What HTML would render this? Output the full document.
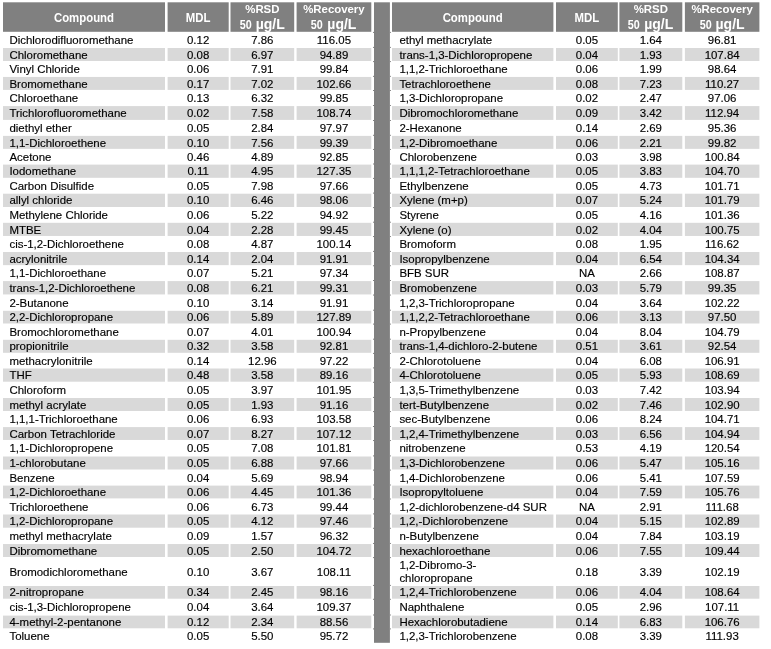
<!DOCTYPE html>
<html><head><meta charset="utf-8"><style>
html,body{margin:0;padding:0;background:#fff;}
body{width:771px;height:649px;position:relative;overflow:hidden;font-family:"Liberation Sans",sans-serif;color:#000;}
.wrap{position:absolute;left:0;top:0;width:771px;height:649px;filter:blur(0.35px);}
svg{position:absolute;left:0;top:0;}
.c{position:absolute;box-sizing:border-box;font-size:11.45px;line-height:12px;white-space:nowrap;}
.n{text-align:center;}
.c{-webkit-text-stroke:0.15px #000;}
.h{position:absolute;color:#fff;font-weight:bold;font-size:11.4px;text-align:center;white-space:nowrap;}
.h1{line-height:29.5px;padding-top:1.5px;box-sizing:border-box;transform:scaleY(1.1);transform-origin:50% 19.5px;}
.h2 .a{position:absolute;left:0;right:0;top:1.05px;line-height:12px;transform:scaleY(1);transform-origin:50% 9.95px;clip-path:inset(0 0 0.6px 0);}
.h2 .b{position:absolute;left:0;right:0;top:14.95px;line-height:14px;}
.h2 .b span{font-size:14px;}
.h2 .b i{font-style:normal;display:inline-block;line-height:12px;transform:translateX(-0.5px) scale(0.945,1.128);transform-origin:50% 9.95px;}
</style></head><body><div class="wrap">

<svg width="771" height="649" viewBox="0 0 771 649"><rect x="3" y="2.3" width="162" height="29.5" fill="#808080"/><rect x="167.6" y="2.3" width="61.1" height="29.5" fill="#808080"/><rect x="230.5" y="2.3" width="63.7" height="29.5" fill="#808080"/><rect x="296.6" y="2.3" width="74.7" height="29.5" fill="#808080"/><rect x="3" y="48" width="162" height="13" fill="#d9d9d9"/><rect x="167.6" y="48" width="61.1" height="13" fill="#d9d9d9"/><rect x="230.5" y="48" width="63.7" height="13" fill="#d9d9d9"/><rect x="296.6" y="48" width="74.7" height="13" fill="#d9d9d9"/><rect x="3" y="76.95" width="162" height="12.95" fill="#d9d9d9"/><rect x="167.6" y="76.95" width="61.1" height="12.95" fill="#d9d9d9"/><rect x="230.5" y="76.95" width="63.7" height="12.95" fill="#d9d9d9"/><rect x="296.6" y="76.95" width="74.7" height="12.95" fill="#d9d9d9"/><rect x="3" y="106.1" width="162" height="13.8" fill="#d9d9d9"/><rect x="167.6" y="106.1" width="61.1" height="13.8" fill="#d9d9d9"/><rect x="230.5" y="106.1" width="63.7" height="13.8" fill="#d9d9d9"/><rect x="296.6" y="106.1" width="74.7" height="13.8" fill="#d9d9d9"/><rect x="3" y="135.9" width="162" height="12.95" fill="#d9d9d9"/><rect x="167.6" y="135.9" width="61.1" height="12.95" fill="#d9d9d9"/><rect x="230.5" y="135.9" width="63.7" height="12.95" fill="#d9d9d9"/><rect x="296.6" y="135.9" width="74.7" height="12.95" fill="#d9d9d9"/><rect x="3" y="164.6" width="162" height="13.2" fill="#d9d9d9"/><rect x="167.6" y="164.6" width="61.1" height="13.2" fill="#d9d9d9"/><rect x="230.5" y="164.6" width="63.7" height="13.2" fill="#d9d9d9"/><rect x="296.6" y="164.6" width="74.7" height="13.2" fill="#d9d9d9"/><rect x="3" y="193.7" width="162" height="13.3" fill="#d9d9d9"/><rect x="167.6" y="193.7" width="61.1" height="13.3" fill="#d9d9d9"/><rect x="230.5" y="193.7" width="63.7" height="13.3" fill="#d9d9d9"/><rect x="296.6" y="193.7" width="74.7" height="13.3" fill="#d9d9d9"/><rect x="3" y="222.8" width="162" height="13.15" fill="#d9d9d9"/><rect x="167.6" y="222.8" width="61.1" height="13.15" fill="#d9d9d9"/><rect x="230.5" y="222.8" width="63.7" height="13.15" fill="#d9d9d9"/><rect x="296.6" y="222.8" width="74.7" height="13.15" fill="#d9d9d9"/><rect x="3" y="252" width="162" height="13.15" fill="#d9d9d9"/><rect x="167.6" y="252" width="61.1" height="13.15" fill="#d9d9d9"/><rect x="230.5" y="252" width="63.7" height="13.15" fill="#d9d9d9"/><rect x="296.6" y="252" width="74.7" height="13.15" fill="#d9d9d9"/><rect x="3" y="281.1" width="162" height="13.35" fill="#d9d9d9"/><rect x="167.6" y="281.1" width="61.1" height="13.35" fill="#d9d9d9"/><rect x="230.5" y="281.1" width="63.7" height="13.35" fill="#d9d9d9"/><rect x="296.6" y="281.1" width="74.7" height="13.35" fill="#d9d9d9"/><rect x="3" y="310.8" width="162" height="12.7" fill="#d9d9d9"/><rect x="167.6" y="310.8" width="61.1" height="12.7" fill="#d9d9d9"/><rect x="230.5" y="310.8" width="63.7" height="12.7" fill="#d9d9d9"/><rect x="296.6" y="310.8" width="74.7" height="12.7" fill="#d9d9d9"/><rect x="3" y="339.8" width="162" height="13" fill="#d9d9d9"/><rect x="167.6" y="339.8" width="61.1" height="13" fill="#d9d9d9"/><rect x="230.5" y="339.8" width="63.7" height="13" fill="#d9d9d9"/><rect x="296.6" y="339.8" width="74.7" height="13" fill="#d9d9d9"/><rect x="3" y="368.5" width="162" height="13.2" fill="#d9d9d9"/><rect x="167.6" y="368.5" width="61.1" height="13.2" fill="#d9d9d9"/><rect x="230.5" y="368.5" width="63.7" height="13.2" fill="#d9d9d9"/><rect x="296.6" y="368.5" width="74.7" height="13.2" fill="#d9d9d9"/><rect x="3" y="398" width="162" height="13" fill="#d9d9d9"/><rect x="167.6" y="398" width="61.1" height="13" fill="#d9d9d9"/><rect x="230.5" y="398" width="63.7" height="13" fill="#d9d9d9"/><rect x="296.6" y="398" width="74.7" height="13" fill="#d9d9d9"/><rect x="3" y="427.1" width="162" height="12.85" fill="#d9d9d9"/><rect x="167.6" y="427.1" width="61.1" height="12.85" fill="#d9d9d9"/><rect x="230.5" y="427.1" width="63.7" height="12.85" fill="#d9d9d9"/><rect x="296.6" y="427.1" width="74.7" height="12.85" fill="#d9d9d9"/><rect x="3" y="456.5" width="162" height="13" fill="#d9d9d9"/><rect x="167.6" y="456.5" width="61.1" height="13" fill="#d9d9d9"/><rect x="230.5" y="456.5" width="63.7" height="13" fill="#d9d9d9"/><rect x="296.6" y="456.5" width="74.7" height="13" fill="#d9d9d9"/><rect x="3" y="485.6" width="162" height="12.8" fill="#d9d9d9"/><rect x="167.6" y="485.6" width="61.1" height="12.8" fill="#d9d9d9"/><rect x="230.5" y="485.6" width="63.7" height="12.8" fill="#d9d9d9"/><rect x="296.6" y="485.6" width="74.7" height="12.8" fill="#d9d9d9"/><rect x="3" y="514.5" width="162" height="13.2" fill="#d9d9d9"/><rect x="167.6" y="514.5" width="61.1" height="13.2" fill="#d9d9d9"/><rect x="230.5" y="514.5" width="63.7" height="13.2" fill="#d9d9d9"/><rect x="296.6" y="514.5" width="74.7" height="13.2" fill="#d9d9d9"/><rect x="3" y="544.05" width="162" height="12.95" fill="#d9d9d9"/><rect x="167.6" y="544.05" width="61.1" height="12.95" fill="#d9d9d9"/><rect x="230.5" y="544.05" width="63.7" height="12.95" fill="#d9d9d9"/><rect x="296.6" y="544.05" width="74.7" height="12.95" fill="#d9d9d9"/><rect x="3" y="586" width="162" height="12.7" fill="#d9d9d9"/><rect x="167.6" y="586" width="61.1" height="12.7" fill="#d9d9d9"/><rect x="230.5" y="586" width="63.7" height="12.7" fill="#d9d9d9"/><rect x="296.6" y="586" width="74.7" height="12.7" fill="#d9d9d9"/><rect x="3" y="615.6" width="162" height="12.7" fill="#d9d9d9"/><rect x="167.6" y="615.6" width="61.1" height="12.7" fill="#d9d9d9"/><rect x="230.5" y="615.6" width="63.7" height="12.7" fill="#d9d9d9"/><rect x="296.6" y="615.6" width="74.7" height="12.7" fill="#d9d9d9"/><rect x="392" y="2.3" width="161.4" height="29.5" fill="#808080"/><rect x="556" y="2.3" width="61.8" height="29.5" fill="#808080"/><rect x="619.4" y="2.3" width="62.9" height="29.5" fill="#808080"/><rect x="684.9" y="2.3" width="74.5" height="29.5" fill="#808080"/><rect x="392" y="48" width="161.4" height="13" fill="#d9d9d9"/><rect x="556" y="48" width="61.8" height="13" fill="#d9d9d9"/><rect x="619.4" y="48" width="62.9" height="13" fill="#d9d9d9"/><rect x="684.9" y="48" width="74.5" height="13" fill="#d9d9d9"/><rect x="392" y="76.95" width="161.4" height="12.95" fill="#d9d9d9"/><rect x="556" y="76.95" width="61.8" height="12.95" fill="#d9d9d9"/><rect x="619.4" y="76.95" width="62.9" height="12.95" fill="#d9d9d9"/><rect x="684.9" y="76.95" width="74.5" height="12.95" fill="#d9d9d9"/><rect x="392" y="106.1" width="161.4" height="13.8" fill="#d9d9d9"/><rect x="556" y="106.1" width="61.8" height="13.8" fill="#d9d9d9"/><rect x="619.4" y="106.1" width="62.9" height="13.8" fill="#d9d9d9"/><rect x="684.9" y="106.1" width="74.5" height="13.8" fill="#d9d9d9"/><rect x="392" y="135.9" width="161.4" height="12.95" fill="#d9d9d9"/><rect x="556" y="135.9" width="61.8" height="12.95" fill="#d9d9d9"/><rect x="619.4" y="135.9" width="62.9" height="12.95" fill="#d9d9d9"/><rect x="684.9" y="135.9" width="74.5" height="12.95" fill="#d9d9d9"/><rect x="392" y="164.6" width="161.4" height="13.2" fill="#d9d9d9"/><rect x="556" y="164.6" width="61.8" height="13.2" fill="#d9d9d9"/><rect x="619.4" y="164.6" width="62.9" height="13.2" fill="#d9d9d9"/><rect x="684.9" y="164.6" width="74.5" height="13.2" fill="#d9d9d9"/><rect x="392" y="193.7" width="161.4" height="13.3" fill="#d9d9d9"/><rect x="556" y="193.7" width="61.8" height="13.3" fill="#d9d9d9"/><rect x="619.4" y="193.7" width="62.9" height="13.3" fill="#d9d9d9"/><rect x="684.9" y="193.7" width="74.5" height="13.3" fill="#d9d9d9"/><rect x="392" y="222.8" width="161.4" height="13.15" fill="#d9d9d9"/><rect x="556" y="222.8" width="61.8" height="13.15" fill="#d9d9d9"/><rect x="619.4" y="222.8" width="62.9" height="13.15" fill="#d9d9d9"/><rect x="684.9" y="222.8" width="74.5" height="13.15" fill="#d9d9d9"/><rect x="392" y="252" width="161.4" height="13.15" fill="#d9d9d9"/><rect x="556" y="252" width="61.8" height="13.15" fill="#d9d9d9"/><rect x="619.4" y="252" width="62.9" height="13.15" fill="#d9d9d9"/><rect x="684.9" y="252" width="74.5" height="13.15" fill="#d9d9d9"/><rect x="392" y="281.1" width="161.4" height="13.35" fill="#d9d9d9"/><rect x="556" y="281.1" width="61.8" height="13.35" fill="#d9d9d9"/><rect x="619.4" y="281.1" width="62.9" height="13.35" fill="#d9d9d9"/><rect x="684.9" y="281.1" width="74.5" height="13.35" fill="#d9d9d9"/><rect x="392" y="310.8" width="161.4" height="12.7" fill="#d9d9d9"/><rect x="556" y="310.8" width="61.8" height="12.7" fill="#d9d9d9"/><rect x="619.4" y="310.8" width="62.9" height="12.7" fill="#d9d9d9"/><rect x="684.9" y="310.8" width="74.5" height="12.7" fill="#d9d9d9"/><rect x="392" y="339.8" width="161.4" height="13" fill="#d9d9d9"/><rect x="556" y="339.8" width="61.8" height="13" fill="#d9d9d9"/><rect x="619.4" y="339.8" width="62.9" height="13" fill="#d9d9d9"/><rect x="684.9" y="339.8" width="74.5" height="13" fill="#d9d9d9"/><rect x="392" y="368.5" width="161.4" height="13.2" fill="#d9d9d9"/><rect x="556" y="368.5" width="61.8" height="13.2" fill="#d9d9d9"/><rect x="619.4" y="368.5" width="62.9" height="13.2" fill="#d9d9d9"/><rect x="684.9" y="368.5" width="74.5" height="13.2" fill="#d9d9d9"/><rect x="392" y="398" width="161.4" height="13" fill="#d9d9d9"/><rect x="556" y="398" width="61.8" height="13" fill="#d9d9d9"/><rect x="619.4" y="398" width="62.9" height="13" fill="#d9d9d9"/><rect x="684.9" y="398" width="74.5" height="13" fill="#d9d9d9"/><rect x="392" y="427.1" width="161.4" height="12.85" fill="#d9d9d9"/><rect x="556" y="427.1" width="61.8" height="12.85" fill="#d9d9d9"/><rect x="619.4" y="427.1" width="62.9" height="12.85" fill="#d9d9d9"/><rect x="684.9" y="427.1" width="74.5" height="12.85" fill="#d9d9d9"/><rect x="392" y="456.5" width="161.4" height="13" fill="#d9d9d9"/><rect x="556" y="456.5" width="61.8" height="13" fill="#d9d9d9"/><rect x="619.4" y="456.5" width="62.9" height="13" fill="#d9d9d9"/><rect x="684.9" y="456.5" width="74.5" height="13" fill="#d9d9d9"/><rect x="392" y="485.6" width="161.4" height="12.8" fill="#d9d9d9"/><rect x="556" y="485.6" width="61.8" height="12.8" fill="#d9d9d9"/><rect x="619.4" y="485.6" width="62.9" height="12.8" fill="#d9d9d9"/><rect x="684.9" y="485.6" width="74.5" height="12.8" fill="#d9d9d9"/><rect x="392" y="514.5" width="161.4" height="13.2" fill="#d9d9d9"/><rect x="556" y="514.5" width="61.8" height="13.2" fill="#d9d9d9"/><rect x="619.4" y="514.5" width="62.9" height="13.2" fill="#d9d9d9"/><rect x="684.9" y="514.5" width="74.5" height="13.2" fill="#d9d9d9"/><rect x="392" y="544.05" width="161.4" height="12.95" fill="#d9d9d9"/><rect x="556" y="544.05" width="61.8" height="12.95" fill="#d9d9d9"/><rect x="619.4" y="544.05" width="62.9" height="12.95" fill="#d9d9d9"/><rect x="684.9" y="544.05" width="74.5" height="12.95" fill="#d9d9d9"/><rect x="392" y="586" width="161.4" height="12.7" fill="#d9d9d9"/><rect x="556" y="586" width="61.8" height="12.7" fill="#d9d9d9"/><rect x="619.4" y="586" width="62.9" height="12.7" fill="#d9d9d9"/><rect x="684.9" y="586" width="74.5" height="12.7" fill="#d9d9d9"/><rect x="392" y="615.6" width="161.4" height="12.7" fill="#d9d9d9"/><rect x="556" y="615.6" width="61.8" height="12.7" fill="#d9d9d9"/><rect x="619.4" y="615.6" width="62.9" height="12.7" fill="#d9d9d9"/><rect x="684.9" y="615.6" width="74.5" height="12.7" fill="#d9d9d9"/><rect x="374" y="2.3" width="15.9" height="640.5" fill="#808080"/><rect x="373" y="46.9" width="1" height="1" fill="#808080"/><rect x="389.9" y="46.9" width="1" height="1" fill="#808080"/><rect x="373" y="61.1" width="1" height="1" fill="#808080"/><rect x="389.9" y="61.1" width="1" height="1" fill="#808080"/><rect x="373" y="75.85" width="1" height="1" fill="#808080"/><rect x="389.9" y="75.85" width="1" height="1" fill="#808080"/><rect x="373" y="90" width="1" height="1" fill="#808080"/><rect x="389.9" y="90" width="1" height="1" fill="#808080"/><rect x="373" y="105" width="1" height="1" fill="#808080"/><rect x="389.9" y="105" width="1" height="1" fill="#808080"/><rect x="373" y="120" width="1" height="1" fill="#808080"/><rect x="389.9" y="120" width="1" height="1" fill="#808080"/><rect x="373" y="134.8" width="1" height="1" fill="#808080"/><rect x="389.9" y="134.8" width="1" height="1" fill="#808080"/><rect x="373" y="148.95" width="1" height="1" fill="#808080"/><rect x="389.9" y="148.95" width="1" height="1" fill="#808080"/><rect x="373" y="163.5" width="1" height="1" fill="#808080"/><rect x="389.9" y="163.5" width="1" height="1" fill="#808080"/><rect x="373" y="177.9" width="1" height="1" fill="#808080"/><rect x="389.9" y="177.9" width="1" height="1" fill="#808080"/><rect x="373" y="192.6" width="1" height="1" fill="#808080"/><rect x="389.9" y="192.6" width="1" height="1" fill="#808080"/><rect x="373" y="207.1" width="1" height="1" fill="#808080"/><rect x="389.9" y="207.1" width="1" height="1" fill="#808080"/><rect x="373" y="221.7" width="1" height="1" fill="#808080"/><rect x="389.9" y="221.7" width="1" height="1" fill="#808080"/><rect x="373" y="236.05" width="1" height="1" fill="#808080"/><rect x="389.9" y="236.05" width="1" height="1" fill="#808080"/><rect x="373" y="250.9" width="1" height="1" fill="#808080"/><rect x="389.9" y="250.9" width="1" height="1" fill="#808080"/><rect x="373" y="265.25" width="1" height="1" fill="#808080"/><rect x="389.9" y="265.25" width="1" height="1" fill="#808080"/><rect x="373" y="280" width="1" height="1" fill="#808080"/><rect x="389.9" y="280" width="1" height="1" fill="#808080"/><rect x="373" y="294.55" width="1" height="1" fill="#808080"/><rect x="389.9" y="294.55" width="1" height="1" fill="#808080"/><rect x="373" y="309.7" width="1" height="1" fill="#808080"/><rect x="389.9" y="309.7" width="1" height="1" fill="#808080"/><rect x="373" y="323.6" width="1" height="1" fill="#808080"/><rect x="389.9" y="323.6" width="1" height="1" fill="#808080"/><rect x="373" y="338.7" width="1" height="1" fill="#808080"/><rect x="389.9" y="338.7" width="1" height="1" fill="#808080"/><rect x="373" y="352.9" width="1" height="1" fill="#808080"/><rect x="389.9" y="352.9" width="1" height="1" fill="#808080"/><rect x="373" y="367.4" width="1" height="1" fill="#808080"/><rect x="389.9" y="367.4" width="1" height="1" fill="#808080"/><rect x="373" y="381.8" width="1" height="1" fill="#808080"/><rect x="389.9" y="381.8" width="1" height="1" fill="#808080"/><rect x="373" y="396.9" width="1" height="1" fill="#808080"/><rect x="389.9" y="396.9" width="1" height="1" fill="#808080"/><rect x="373" y="411.1" width="1" height="1" fill="#808080"/><rect x="389.9" y="411.1" width="1" height="1" fill="#808080"/><rect x="373" y="426" width="1" height="1" fill="#808080"/><rect x="389.9" y="426" width="1" height="1" fill="#808080"/><rect x="373" y="440.05" width="1" height="1" fill="#808080"/><rect x="389.9" y="440.05" width="1" height="1" fill="#808080"/><rect x="373" y="455.4" width="1" height="1" fill="#808080"/><rect x="389.9" y="455.4" width="1" height="1" fill="#808080"/><rect x="373" y="469.6" width="1" height="1" fill="#808080"/><rect x="389.9" y="469.6" width="1" height="1" fill="#808080"/><rect x="373" y="484.5" width="1" height="1" fill="#808080"/><rect x="389.9" y="484.5" width="1" height="1" fill="#808080"/><rect x="373" y="498.5" width="1" height="1" fill="#808080"/><rect x="389.9" y="498.5" width="1" height="1" fill="#808080"/><rect x="373" y="513.4" width="1" height="1" fill="#808080"/><rect x="389.9" y="513.4" width="1" height="1" fill="#808080"/><rect x="373" y="527.8" width="1" height="1" fill="#808080"/><rect x="389.9" y="527.8" width="1" height="1" fill="#808080"/><rect x="373" y="542.95" width="1" height="1" fill="#808080"/><rect x="389.9" y="542.95" width="1" height="1" fill="#808080"/><rect x="373" y="557.1" width="1" height="1" fill="#808080"/><rect x="389.9" y="557.1" width="1" height="1" fill="#808080"/><rect x="373" y="584.9" width="1" height="1" fill="#808080"/><rect x="389.9" y="584.9" width="1" height="1" fill="#808080"/><rect x="373" y="598.8" width="1" height="1" fill="#808080"/><rect x="389.9" y="598.8" width="1" height="1" fill="#808080"/><rect x="373" y="614.5" width="1" height="1" fill="#808080"/><rect x="389.9" y="614.5" width="1" height="1" fill="#808080"/><rect x="373" y="628.4" width="1" height="1" fill="#808080"/><rect x="389.9" y="628.4" width="1" height="1" fill="#808080"/><rect x="373" y="31.9" width="1" height="1" fill="#808080"/><rect x="389.9" y="31.9" width="1" height="1" fill="#808080"/></svg>
<div class="h h1" style="left:3px;top:2.3px;width:162px;height:29.5px;">Compound</div>
<div class="h h1" style="left:167.6px;top:2.3px;width:61.1px;height:29.5px;">MDL</div>
<div class="h h2" style="left:230.5px;top:2.3px;width:63.7px;height:29.5px;"><div class="a">%RSD</div><div class="b"><i>50</i> <span>µg/L</span></div></div>
<div class="h h2" style="left:296.6px;top:2.3px;width:74.7px;height:29.5px;"><div class="a">%Recovery</div><div class="b"><i>50</i> <span>µg/L</span></div></div>
<div class="c" style="left:3px;top:34.035px;width:162px;padding-left:6.45px;">Dichlorodifluoromethane</div>
<div class="c n" style="left:167.6px;top:34.035px;width:61.1px;">0.12</div>
<div class="c n" style="left:230.5px;top:34.035px;width:63.7px;">7.86</div>
<div class="c n" style="left:296.6px;top:34.035px;width:74.7px;">116.05</div>
<div class="c" style="left:3px;top:48.635px;width:162px;padding-left:6.45px;">Chloromethane</div>
<div class="c n" style="left:167.6px;top:48.635px;width:61.1px;">0.08</div>
<div class="c n" style="left:230.5px;top:48.635px;width:63.7px;">6.97</div>
<div class="c n" style="left:296.6px;top:48.635px;width:74.7px;">94.89</div>
<div class="c" style="left:3px;top:63.11px;width:162px;padding-left:6.45px;">Vinyl Chloride</div>
<div class="c n" style="left:167.6px;top:63.11px;width:61.1px;">0.06</div>
<div class="c n" style="left:230.5px;top:63.11px;width:63.7px;">7.91</div>
<div class="c n" style="left:296.6px;top:63.11px;width:74.7px;">99.84</div>
<div class="c" style="left:3px;top:77.56px;width:162px;padding-left:6.45px;">Bromomethane</div>
<div class="c n" style="left:167.6px;top:77.56px;width:61.1px;">0.17</div>
<div class="c n" style="left:230.5px;top:77.56px;width:63.7px;">7.02</div>
<div class="c n" style="left:296.6px;top:77.56px;width:74.7px;">102.66</div>
<div class="c" style="left:3px;top:92.135px;width:162px;padding-left:6.45px;">Chloroethane</div>
<div class="c n" style="left:167.6px;top:92.135px;width:61.1px;">0.13</div>
<div class="c n" style="left:230.5px;top:92.135px;width:63.7px;">6.32</div>
<div class="c n" style="left:296.6px;top:92.135px;width:74.7px;">99.85</div>
<div class="c" style="left:3px;top:107.135px;width:162px;padding-left:6.45px;">Trichlorofluoromethane</div>
<div class="c n" style="left:167.6px;top:107.135px;width:61.1px;">0.02</div>
<div class="c n" style="left:230.5px;top:107.135px;width:63.7px;">7.58</div>
<div class="c n" style="left:296.6px;top:107.135px;width:74.7px;">108.74</div>
<div class="c" style="left:3px;top:122.035px;width:162px;padding-left:6.45px;">diethyl ether</div>
<div class="c n" style="left:167.6px;top:122.035px;width:61.1px;">0.05</div>
<div class="c n" style="left:230.5px;top:122.035px;width:63.7px;">2.84</div>
<div class="c n" style="left:296.6px;top:122.035px;width:74.7px;">97.97</div>
<div class="c" style="left:3px;top:136.51px;width:162px;padding-left:6.45px;">1,1-Dichloroethene</div>
<div class="c n" style="left:167.6px;top:136.51px;width:61.1px;">0.10</div>
<div class="c n" style="left:230.5px;top:136.51px;width:63.7px;">7.56</div>
<div class="c n" style="left:296.6px;top:136.51px;width:74.7px;">99.39</div>
<div class="c" style="left:3px;top:150.86px;width:162px;padding-left:6.45px;">Acetone</div>
<div class="c n" style="left:167.6px;top:150.86px;width:61.1px;">0.46</div>
<div class="c n" style="left:230.5px;top:150.86px;width:63.7px;">4.89</div>
<div class="c n" style="left:296.6px;top:150.86px;width:74.7px;">92.85</div>
<div class="c" style="left:3px;top:165.335px;width:162px;padding-left:6.45px;">Iodomethane</div>
<div class="c n" style="left:167.6px;top:165.335px;width:61.1px;">0.11</div>
<div class="c n" style="left:230.5px;top:165.335px;width:63.7px;">4.95</div>
<div class="c n" style="left:296.6px;top:165.335px;width:74.7px;">127.35</div>
<div class="c" style="left:3px;top:179.885px;width:162px;padding-left:6.45px;">Carbon Disulfide</div>
<div class="c n" style="left:167.6px;top:179.885px;width:61.1px;">0.05</div>
<div class="c n" style="left:230.5px;top:179.885px;width:63.7px;">7.98</div>
<div class="c n" style="left:296.6px;top:179.885px;width:74.7px;">97.66</div>
<div class="c" style="left:3px;top:194.485px;width:162px;padding-left:6.45px;">allyl chloride</div>
<div class="c n" style="left:167.6px;top:194.485px;width:61.1px;">0.10</div>
<div class="c n" style="left:230.5px;top:194.485px;width:63.7px;">6.46</div>
<div class="c n" style="left:296.6px;top:194.485px;width:74.7px;">98.06</div>
<div class="c" style="left:3px;top:209.035px;width:162px;padding-left:6.45px;">Methylene Chloride</div>
<div class="c n" style="left:167.6px;top:209.035px;width:61.1px;">0.06</div>
<div class="c n" style="left:230.5px;top:209.035px;width:63.7px;">5.22</div>
<div class="c n" style="left:296.6px;top:209.035px;width:74.7px;">94.92</div>
<div class="c" style="left:3px;top:223.51px;width:162px;padding-left:6.45px;">MTBE</div>
<div class="c n" style="left:167.6px;top:223.51px;width:61.1px;">0.04</div>
<div class="c n" style="left:230.5px;top:223.51px;width:63.7px;">2.28</div>
<div class="c n" style="left:296.6px;top:223.51px;width:74.7px;">99.45</div>
<div class="c" style="left:3px;top:238.11px;width:162px;padding-left:6.45px;">cis-1,2-Dichloroethene</div>
<div class="c n" style="left:167.6px;top:238.11px;width:61.1px;">0.08</div>
<div class="c n" style="left:230.5px;top:238.11px;width:63.7px;">4.87</div>
<div class="c n" style="left:296.6px;top:238.11px;width:74.7px;">100.14</div>
<div class="c" style="left:3px;top:252.71px;width:162px;padding-left:6.45px;">acrylonitrile</div>
<div class="c n" style="left:167.6px;top:252.71px;width:61.1px;">0.14</div>
<div class="c n" style="left:230.5px;top:252.71px;width:63.7px;">2.04</div>
<div class="c n" style="left:296.6px;top:252.71px;width:74.7px;">91.91</div>
<div class="c" style="left:3px;top:267.26px;width:162px;padding-left:6.45px;">1,1-Dichloroethane</div>
<div class="c n" style="left:167.6px;top:267.26px;width:61.1px;">0.07</div>
<div class="c n" style="left:230.5px;top:267.26px;width:63.7px;">5.21</div>
<div class="c n" style="left:296.6px;top:267.26px;width:74.7px;">97.34</div>
<div class="c" style="left:3px;top:281.91px;width:162px;padding-left:6.45px;">trans-1,2-Dichloroethene</div>
<div class="c n" style="left:167.6px;top:281.91px;width:61.1px;">0.08</div>
<div class="c n" style="left:230.5px;top:281.91px;width:63.7px;">6.21</div>
<div class="c n" style="left:296.6px;top:281.91px;width:74.7px;">99.31</div>
<div class="c" style="left:3px;top:296.76px;width:162px;padding-left:6.45px;">2-Butanone</div>
<div class="c n" style="left:167.6px;top:296.76px;width:61.1px;">0.10</div>
<div class="c n" style="left:230.5px;top:296.76px;width:63.7px;">3.14</div>
<div class="c n" style="left:296.6px;top:296.76px;width:74.7px;">91.91</div>
<div class="c" style="left:3px;top:311.285px;width:162px;padding-left:6.45px;">2,2-Dichloropropane</div>
<div class="c n" style="left:167.6px;top:311.285px;width:61.1px;">0.06</div>
<div class="c n" style="left:230.5px;top:311.285px;width:63.7px;">5.89</div>
<div class="c n" style="left:296.6px;top:311.285px;width:74.7px;">127.89</div>
<div class="c" style="left:3px;top:325.785px;width:162px;padding-left:6.45px;">Bromochloromethane</div>
<div class="c n" style="left:167.6px;top:325.785px;width:61.1px;">0.07</div>
<div class="c n" style="left:230.5px;top:325.785px;width:63.7px;">4.01</div>
<div class="c n" style="left:296.6px;top:325.785px;width:74.7px;">100.94</div>
<div class="c" style="left:3px;top:340.435px;width:162px;padding-left:6.45px;">propionitrile</div>
<div class="c n" style="left:167.6px;top:340.435px;width:61.1px;">0.32</div>
<div class="c n" style="left:230.5px;top:340.435px;width:63.7px;">3.58</div>
<div class="c n" style="left:296.6px;top:340.435px;width:74.7px;">92.81</div>
<div class="c" style="left:3px;top:354.785px;width:162px;padding-left:6.45px;">methacrylonitrile</div>
<div class="c n" style="left:167.6px;top:354.785px;width:61.1px;">0.14</div>
<div class="c n" style="left:230.5px;top:354.785px;width:63.7px;">12.96</div>
<div class="c n" style="left:296.6px;top:354.785px;width:74.7px;">97.22</div>
<div class="c" style="left:3px;top:369.235px;width:162px;padding-left:6.45px;">THF</div>
<div class="c n" style="left:167.6px;top:369.235px;width:61.1px;">0.48</div>
<div class="c n" style="left:230.5px;top:369.235px;width:63.7px;">3.58</div>
<div class="c n" style="left:296.6px;top:369.235px;width:74.7px;">89.16</div>
<div class="c" style="left:3px;top:383.985px;width:162px;padding-left:6.45px;">Chloroform</div>
<div class="c n" style="left:167.6px;top:383.985px;width:61.1px;">0.05</div>
<div class="c n" style="left:230.5px;top:383.985px;width:63.7px;">3.97</div>
<div class="c n" style="left:296.6px;top:383.985px;width:74.7px;">101.95</div>
<div class="c" style="left:3px;top:398.635px;width:162px;padding-left:6.45px;">methyl acrylate</div>
<div class="c n" style="left:167.6px;top:398.635px;width:61.1px;">0.05</div>
<div class="c n" style="left:230.5px;top:398.635px;width:63.7px;">1.93</div>
<div class="c n" style="left:296.6px;top:398.635px;width:74.7px;">91.16</div>
<div class="c" style="left:3px;top:413.185px;width:162px;padding-left:6.45px;">1,1,1-Trichloroethane</div>
<div class="c n" style="left:167.6px;top:413.185px;width:61.1px;">0.06</div>
<div class="c n" style="left:230.5px;top:413.185px;width:63.7px;">6.93</div>
<div class="c n" style="left:296.6px;top:413.185px;width:74.7px;">103.58</div>
<div class="c" style="left:3px;top:427.66px;width:162px;padding-left:6.45px;">Carbon Tetrachloride</div>
<div class="c n" style="left:167.6px;top:427.66px;width:61.1px;">0.07</div>
<div class="c n" style="left:230.5px;top:427.66px;width:63.7px;">8.27</div>
<div class="c n" style="left:296.6px;top:427.66px;width:74.7px;">107.12</div>
<div class="c" style="left:3px;top:442.36px;width:162px;padding-left:6.45px;">1,1-Dichloropropene</div>
<div class="c n" style="left:167.6px;top:442.36px;width:61.1px;">0.05</div>
<div class="c n" style="left:230.5px;top:442.36px;width:63.7px;">7.08</div>
<div class="c n" style="left:296.6px;top:442.36px;width:74.7px;">101.81</div>
<div class="c" style="left:3px;top:457.135px;width:162px;padding-left:6.45px;">1-chlorobutane</div>
<div class="c n" style="left:167.6px;top:457.135px;width:61.1px;">0.05</div>
<div class="c n" style="left:230.5px;top:457.135px;width:63.7px;">6.88</div>
<div class="c n" style="left:296.6px;top:457.135px;width:74.7px;">97.66</div>
<div class="c" style="left:3px;top:471.685px;width:162px;padding-left:6.45px;">Benzene</div>
<div class="c n" style="left:167.6px;top:471.685px;width:61.1px;">0.04</div>
<div class="c n" style="left:230.5px;top:471.685px;width:63.7px;">5.69</div>
<div class="c n" style="left:296.6px;top:471.685px;width:74.7px;">98.94</div>
<div class="c" style="left:3px;top:486.135px;width:162px;padding-left:6.45px;">1,2-Dichloroethane</div>
<div class="c n" style="left:167.6px;top:486.135px;width:61.1px;">0.06</div>
<div class="c n" style="left:230.5px;top:486.135px;width:63.7px;">4.45</div>
<div class="c n" style="left:296.6px;top:486.135px;width:74.7px;">101.36</div>
<div class="c" style="left:3px;top:500.585px;width:162px;padding-left:6.45px;">Trichloroethene</div>
<div class="c n" style="left:167.6px;top:500.585px;width:61.1px;">0.06</div>
<div class="c n" style="left:230.5px;top:500.585px;width:63.7px;">6.73</div>
<div class="c n" style="left:296.6px;top:500.585px;width:74.7px;">99.44</div>
<div class="c" style="left:3px;top:515.235px;width:162px;padding-left:6.45px;">1,2-Dichloropropane</div>
<div class="c n" style="left:167.6px;top:515.235px;width:61.1px;">0.05</div>
<div class="c n" style="left:230.5px;top:515.235px;width:63.7px;">4.12</div>
<div class="c n" style="left:296.6px;top:515.235px;width:74.7px;">97.46</div>
<div class="c" style="left:3px;top:530.01px;width:162px;padding-left:6.45px;">methyl methacrylate</div>
<div class="c n" style="left:167.6px;top:530.01px;width:61.1px;">0.09</div>
<div class="c n" style="left:230.5px;top:530.01px;width:63.7px;">1.57</div>
<div class="c n" style="left:296.6px;top:530.01px;width:74.7px;">96.32</div>
<div class="c" style="left:3px;top:544.66px;width:162px;padding-left:6.45px;">Dibromomethane</div>
<div class="c n" style="left:167.6px;top:544.66px;width:61.1px;">0.05</div>
<div class="c n" style="left:230.5px;top:544.66px;width:63.7px;">2.50</div>
<div class="c n" style="left:296.6px;top:544.66px;width:74.7px;">104.72</div>
<div class="c" style="left:3px;top:565.635px;width:162px;padding-left:6.45px;">Bromodichloromethane</div>
<div class="c n" style="left:167.6px;top:565.635px;width:61.1px;">0.10</div>
<div class="c n" style="left:230.5px;top:565.635px;width:63.7px;">3.67</div>
<div class="c n" style="left:296.6px;top:565.635px;width:74.7px;">108.11</div>
<div class="c" style="left:3px;top:586.485px;width:162px;padding-left:6.45px;">2-nitropropane</div>
<div class="c n" style="left:167.6px;top:586.485px;width:61.1px;">0.34</div>
<div class="c n" style="left:230.5px;top:586.485px;width:63.7px;">2.45</div>
<div class="c n" style="left:296.6px;top:586.485px;width:74.7px;">98.16</div>
<div class="c" style="left:3px;top:601.285px;width:162px;padding-left:6.45px;">cis-1,3-Dichloropropene</div>
<div class="c n" style="left:167.6px;top:601.285px;width:61.1px;">0.04</div>
<div class="c n" style="left:230.5px;top:601.285px;width:63.7px;">3.64</div>
<div class="c n" style="left:296.6px;top:601.285px;width:74.7px;">109.37</div>
<div class="c" style="left:3px;top:616.085px;width:162px;padding-left:6.45px;">4-methyl-2-pentanone</div>
<div class="c n" style="left:167.6px;top:616.085px;width:61.1px;">0.12</div>
<div class="c n" style="left:230.5px;top:616.085px;width:63.7px;">2.34</div>
<div class="c n" style="left:296.6px;top:616.085px;width:74.7px;">88.56</div>
<div class="c" style="left:3px;top:630.285px;width:162px;padding-left:6.45px;">Toluene</div>
<div class="c n" style="left:167.6px;top:630.285px;width:61.1px;">0.05</div>
<div class="c n" style="left:230.5px;top:630.285px;width:63.7px;">5.50</div>
<div class="c n" style="left:296.6px;top:630.285px;width:74.7px;">95.72</div>
<div class="h h1" style="left:392px;top:2.3px;width:161.4px;height:29.5px;">Compound</div>
<div class="h h1" style="left:556px;top:2.3px;width:61.8px;height:29.5px;">MDL</div>
<div class="h h2" style="left:619.4px;top:2.3px;width:62.9px;height:29.5px;"><div class="a">%RSD</div><div class="b"><i>50</i> <span>µg/L</span></div></div>
<div class="h h2" style="left:684.9px;top:2.3px;width:74.5px;height:29.5px;"><div class="a">%Recovery</div><div class="b"><i>50</i> <span>µg/L</span></div></div>
<div class="c" style="left:392px;top:34.035px;width:161.4px;padding-left:7.4px;">ethyl methacrylate</div>
<div class="c n" style="left:556px;top:34.035px;width:61.8px;">0.05</div>
<div class="c n" style="left:619.4px;top:34.035px;width:62.9px;">1.64</div>
<div class="c n" style="left:684.9px;top:34.035px;width:74.5px;">96.81</div>
<div class="c" style="left:392px;top:48.635px;width:161.4px;padding-left:7.4px;">trans-1,3-Dichloropropene</div>
<div class="c n" style="left:556px;top:48.635px;width:61.8px;">0.04</div>
<div class="c n" style="left:619.4px;top:48.635px;width:62.9px;">1.93</div>
<div class="c n" style="left:684.9px;top:48.635px;width:74.5px;">107.84</div>
<div class="c" style="left:392px;top:63.11px;width:161.4px;padding-left:7.4px;">1,1,2-Trichloroethane</div>
<div class="c n" style="left:556px;top:63.11px;width:61.8px;">0.06</div>
<div class="c n" style="left:619.4px;top:63.11px;width:62.9px;">1.99</div>
<div class="c n" style="left:684.9px;top:63.11px;width:74.5px;">98.64</div>
<div class="c" style="left:392px;top:77.56px;width:161.4px;padding-left:7.4px;">Tetrachloroethene</div>
<div class="c n" style="left:556px;top:77.56px;width:61.8px;">0.08</div>
<div class="c n" style="left:619.4px;top:77.56px;width:62.9px;">7.23</div>
<div class="c n" style="left:684.9px;top:77.56px;width:74.5px;">110.27</div>
<div class="c" style="left:392px;top:92.135px;width:161.4px;padding-left:7.4px;">1,3-Dichloropropane</div>
<div class="c n" style="left:556px;top:92.135px;width:61.8px;">0.02</div>
<div class="c n" style="left:619.4px;top:92.135px;width:62.9px;">2.47</div>
<div class="c n" style="left:684.9px;top:92.135px;width:74.5px;">97.06</div>
<div class="c" style="left:392px;top:107.135px;width:161.4px;padding-left:7.4px;">Dibromochloromethane</div>
<div class="c n" style="left:556px;top:107.135px;width:61.8px;">0.09</div>
<div class="c n" style="left:619.4px;top:107.135px;width:62.9px;">3.42</div>
<div class="c n" style="left:684.9px;top:107.135px;width:74.5px;">112.94</div>
<div class="c" style="left:392px;top:122.035px;width:161.4px;padding-left:7.4px;">2-Hexanone</div>
<div class="c n" style="left:556px;top:122.035px;width:61.8px;">0.14</div>
<div class="c n" style="left:619.4px;top:122.035px;width:62.9px;">2.69</div>
<div class="c n" style="left:684.9px;top:122.035px;width:74.5px;">95.36</div>
<div class="c" style="left:392px;top:136.51px;width:161.4px;padding-left:7.4px;">1,2-Dibromoethane</div>
<div class="c n" style="left:556px;top:136.51px;width:61.8px;">0.06</div>
<div class="c n" style="left:619.4px;top:136.51px;width:62.9px;">2.21</div>
<div class="c n" style="left:684.9px;top:136.51px;width:74.5px;">99.82</div>
<div class="c" style="left:392px;top:150.86px;width:161.4px;padding-left:7.4px;">Chlorobenzene</div>
<div class="c n" style="left:556px;top:150.86px;width:61.8px;">0.03</div>
<div class="c n" style="left:619.4px;top:150.86px;width:62.9px;">3.98</div>
<div class="c n" style="left:684.9px;top:150.86px;width:74.5px;">100.84</div>
<div class="c" style="left:392px;top:165.335px;width:161.4px;padding-left:7.4px;">1,1,1,2-Tetrachloroethane</div>
<div class="c n" style="left:556px;top:165.335px;width:61.8px;">0.05</div>
<div class="c n" style="left:619.4px;top:165.335px;width:62.9px;">3.83</div>
<div class="c n" style="left:684.9px;top:165.335px;width:74.5px;">104.70</div>
<div class="c" style="left:392px;top:179.885px;width:161.4px;padding-left:7.4px;">Ethylbenzene</div>
<div class="c n" style="left:556px;top:179.885px;width:61.8px;">0.05</div>
<div class="c n" style="left:619.4px;top:179.885px;width:62.9px;">4.73</div>
<div class="c n" style="left:684.9px;top:179.885px;width:74.5px;">101.71</div>
<div class="c" style="left:392px;top:194.485px;width:161.4px;padding-left:7.4px;">Xylene (m+p)</div>
<div class="c n" style="left:556px;top:194.485px;width:61.8px;">0.07</div>
<div class="c n" style="left:619.4px;top:194.485px;width:62.9px;">5.24</div>
<div class="c n" style="left:684.9px;top:194.485px;width:74.5px;">101.79</div>
<div class="c" style="left:392px;top:209.035px;width:161.4px;padding-left:7.4px;">Styrene</div>
<div class="c n" style="left:556px;top:209.035px;width:61.8px;">0.05</div>
<div class="c n" style="left:619.4px;top:209.035px;width:62.9px;">4.16</div>
<div class="c n" style="left:684.9px;top:209.035px;width:74.5px;">101.36</div>
<div class="c" style="left:392px;top:223.51px;width:161.4px;padding-left:7.4px;">Xylene (o)</div>
<div class="c n" style="left:556px;top:223.51px;width:61.8px;">0.02</div>
<div class="c n" style="left:619.4px;top:223.51px;width:62.9px;">4.04</div>
<div class="c n" style="left:684.9px;top:223.51px;width:74.5px;">100.75</div>
<div class="c" style="left:392px;top:238.11px;width:161.4px;padding-left:7.4px;">Bromoform</div>
<div class="c n" style="left:556px;top:238.11px;width:61.8px;">0.08</div>
<div class="c n" style="left:619.4px;top:238.11px;width:62.9px;">1.95</div>
<div class="c n" style="left:684.9px;top:238.11px;width:74.5px;">116.62</div>
<div class="c" style="left:392px;top:252.71px;width:161.4px;padding-left:7.4px;">Isopropylbenzene</div>
<div class="c n" style="left:556px;top:252.71px;width:61.8px;">0.04</div>
<div class="c n" style="left:619.4px;top:252.71px;width:62.9px;">6.54</div>
<div class="c n" style="left:684.9px;top:252.71px;width:74.5px;">104.34</div>
<div class="c" style="left:392px;top:267.26px;width:161.4px;padding-left:7.4px;">BFB SUR</div>
<div class="c n" style="left:556px;top:267.26px;width:61.8px;">NA</div>
<div class="c n" style="left:619.4px;top:267.26px;width:62.9px;">2.66</div>
<div class="c n" style="left:684.9px;top:267.26px;width:74.5px;">108.87</div>
<div class="c" style="left:392px;top:281.91px;width:161.4px;padding-left:7.4px;">Bromobenzene</div>
<div class="c n" style="left:556px;top:281.91px;width:61.8px;">0.03</div>
<div class="c n" style="left:619.4px;top:281.91px;width:62.9px;">5.79</div>
<div class="c n" style="left:684.9px;top:281.91px;width:74.5px;">99.35</div>
<div class="c" style="left:392px;top:296.76px;width:161.4px;padding-left:7.4px;">1,2,3-Trichloropropane</div>
<div class="c n" style="left:556px;top:296.76px;width:61.8px;">0.04</div>
<div class="c n" style="left:619.4px;top:296.76px;width:62.9px;">3.64</div>
<div class="c n" style="left:684.9px;top:296.76px;width:74.5px;">102.22</div>
<div class="c" style="left:392px;top:311.285px;width:161.4px;padding-left:7.4px;">1,1,2,2-Tetrachloroethane</div>
<div class="c n" style="left:556px;top:311.285px;width:61.8px;">0.06</div>
<div class="c n" style="left:619.4px;top:311.285px;width:62.9px;">3.13</div>
<div class="c n" style="left:684.9px;top:311.285px;width:74.5px;">97.50</div>
<div class="c" style="left:392px;top:325.785px;width:161.4px;padding-left:7.4px;">n-Propylbenzene</div>
<div class="c n" style="left:556px;top:325.785px;width:61.8px;">0.04</div>
<div class="c n" style="left:619.4px;top:325.785px;width:62.9px;">8.04</div>
<div class="c n" style="left:684.9px;top:325.785px;width:74.5px;">104.79</div>
<div class="c" style="left:392px;top:340.435px;width:161.4px;padding-left:7.4px;">trans-1,4-dichloro-2-butene</div>
<div class="c n" style="left:556px;top:340.435px;width:61.8px;">0.51</div>
<div class="c n" style="left:619.4px;top:340.435px;width:62.9px;">3.61</div>
<div class="c n" style="left:684.9px;top:340.435px;width:74.5px;">92.54</div>
<div class="c" style="left:392px;top:354.785px;width:161.4px;padding-left:7.4px;">2-Chlorotoluene</div>
<div class="c n" style="left:556px;top:354.785px;width:61.8px;">0.04</div>
<div class="c n" style="left:619.4px;top:354.785px;width:62.9px;">6.08</div>
<div class="c n" style="left:684.9px;top:354.785px;width:74.5px;">106.91</div>
<div class="c" style="left:392px;top:369.235px;width:161.4px;padding-left:7.4px;">4-Chlorotoluene</div>
<div class="c n" style="left:556px;top:369.235px;width:61.8px;">0.05</div>
<div class="c n" style="left:619.4px;top:369.235px;width:62.9px;">5.93</div>
<div class="c n" style="left:684.9px;top:369.235px;width:74.5px;">108.69</div>
<div class="c" style="left:392px;top:383.985px;width:161.4px;padding-left:7.4px;">1,3,5-Trimethylbenzene</div>
<div class="c n" style="left:556px;top:383.985px;width:61.8px;">0.03</div>
<div class="c n" style="left:619.4px;top:383.985px;width:62.9px;">7.42</div>
<div class="c n" style="left:684.9px;top:383.985px;width:74.5px;">103.94</div>
<div class="c" style="left:392px;top:398.635px;width:161.4px;padding-left:7.4px;">tert-Butylbenzene</div>
<div class="c n" style="left:556px;top:398.635px;width:61.8px;">0.02</div>
<div class="c n" style="left:619.4px;top:398.635px;width:62.9px;">7.46</div>
<div class="c n" style="left:684.9px;top:398.635px;width:74.5px;">102.90</div>
<div class="c" style="left:392px;top:413.185px;width:161.4px;padding-left:7.4px;">sec-Butylbenzene</div>
<div class="c n" style="left:556px;top:413.185px;width:61.8px;">0.06</div>
<div class="c n" style="left:619.4px;top:413.185px;width:62.9px;">8.24</div>
<div class="c n" style="left:684.9px;top:413.185px;width:74.5px;">104.71</div>
<div class="c" style="left:392px;top:427.66px;width:161.4px;padding-left:7.4px;">1,2,4-Trimethylbenzene</div>
<div class="c n" style="left:556px;top:427.66px;width:61.8px;">0.03</div>
<div class="c n" style="left:619.4px;top:427.66px;width:62.9px;">6.56</div>
<div class="c n" style="left:684.9px;top:427.66px;width:74.5px;">104.94</div>
<div class="c" style="left:392px;top:442.36px;width:161.4px;padding-left:7.4px;">nitrobenzene</div>
<div class="c n" style="left:556px;top:442.36px;width:61.8px;">0.53</div>
<div class="c n" style="left:619.4px;top:442.36px;width:62.9px;">4.19</div>
<div class="c n" style="left:684.9px;top:442.36px;width:74.5px;">120.54</div>
<div class="c" style="left:392px;top:457.135px;width:161.4px;padding-left:7.4px;">1,3-Dichlorobenzene</div>
<div class="c n" style="left:556px;top:457.135px;width:61.8px;">0.06</div>
<div class="c n" style="left:619.4px;top:457.135px;width:62.9px;">5.47</div>
<div class="c n" style="left:684.9px;top:457.135px;width:74.5px;">105.16</div>
<div class="c" style="left:392px;top:471.685px;width:161.4px;padding-left:7.4px;">1,4-Dichlorobenzene</div>
<div class="c n" style="left:556px;top:471.685px;width:61.8px;">0.06</div>
<div class="c n" style="left:619.4px;top:471.685px;width:62.9px;">5.41</div>
<div class="c n" style="left:684.9px;top:471.685px;width:74.5px;">107.59</div>
<div class="c" style="left:392px;top:486.135px;width:161.4px;padding-left:7.4px;">Isopropyltoluene</div>
<div class="c n" style="left:556px;top:486.135px;width:61.8px;">0.04</div>
<div class="c n" style="left:619.4px;top:486.135px;width:62.9px;">7.59</div>
<div class="c n" style="left:684.9px;top:486.135px;width:74.5px;">105.76</div>
<div class="c" style="left:392px;top:500.585px;width:161.4px;padding-left:7.4px;">1,2-dichlorobenzene-d4 SUR</div>
<div class="c n" style="left:556px;top:500.585px;width:61.8px;">NA</div>
<div class="c n" style="left:619.4px;top:500.585px;width:62.9px;">2.91</div>
<div class="c n" style="left:684.9px;top:500.585px;width:74.5px;">111.68</div>
<div class="c" style="left:392px;top:515.235px;width:161.4px;padding-left:7.4px;">1,2,-Dichlorobenzene</div>
<div class="c n" style="left:556px;top:515.235px;width:61.8px;">0.04</div>
<div class="c n" style="left:619.4px;top:515.235px;width:62.9px;">5.15</div>
<div class="c n" style="left:684.9px;top:515.235px;width:74.5px;">102.89</div>
<div class="c" style="left:392px;top:530.01px;width:161.4px;padding-left:7.4px;">n-Butylbenzene</div>
<div class="c n" style="left:556px;top:530.01px;width:61.8px;">0.04</div>
<div class="c n" style="left:619.4px;top:530.01px;width:62.9px;">7.84</div>
<div class="c n" style="left:684.9px;top:530.01px;width:74.5px;">103.19</div>
<div class="c" style="left:392px;top:544.66px;width:161.4px;padding-left:7.4px;">hexachloroethane</div>
<div class="c n" style="left:556px;top:544.66px;width:61.8px;">0.06</div>
<div class="c n" style="left:619.4px;top:544.66px;width:62.9px;">7.55</div>
<div class="c n" style="left:684.9px;top:544.66px;width:74.5px;">109.44</div>
<div class="c" style="left:392px;top:559.135px;width:161.4px;padding-left:7.4px;line-height:12.6px;">1,2-Dibromo-3-<br>chloropropane</div>
<div class="c n" style="left:556px;top:565.635px;width:61.8px;">0.18</div>
<div class="c n" style="left:619.4px;top:565.635px;width:62.9px;">3.39</div>
<div class="c n" style="left:684.9px;top:565.635px;width:74.5px;">102.19</div>
<div class="c" style="left:392px;top:586.485px;width:161.4px;padding-left:7.4px;">1,2,4-Trichlorobenzene</div>
<div class="c n" style="left:556px;top:586.485px;width:61.8px;">0.06</div>
<div class="c n" style="left:619.4px;top:586.485px;width:62.9px;">4.04</div>
<div class="c n" style="left:684.9px;top:586.485px;width:74.5px;">108.64</div>
<div class="c" style="left:392px;top:601.285px;width:161.4px;padding-left:7.4px;">Naphthalene</div>
<div class="c n" style="left:556px;top:601.285px;width:61.8px;">0.05</div>
<div class="c n" style="left:619.4px;top:601.285px;width:62.9px;">2.96</div>
<div class="c n" style="left:684.9px;top:601.285px;width:74.5px;">107.11</div>
<div class="c" style="left:392px;top:616.085px;width:161.4px;padding-left:7.4px;">Hexachlorobutadiene</div>
<div class="c n" style="left:556px;top:616.085px;width:61.8px;">0.14</div>
<div class="c n" style="left:619.4px;top:616.085px;width:62.9px;">6.83</div>
<div class="c n" style="left:684.9px;top:616.085px;width:74.5px;">106.76</div>
<div class="c" style="left:392px;top:630.285px;width:161.4px;padding-left:7.4px;">1,2,3-Trichlorobenzene</div>
<div class="c n" style="left:556px;top:630.285px;width:61.8px;">0.08</div>
<div class="c n" style="left:619.4px;top:630.285px;width:62.9px;">3.39</div>
<div class="c n" style="left:684.9px;top:630.285px;width:74.5px;">111.93</div>
</div></body></html>
